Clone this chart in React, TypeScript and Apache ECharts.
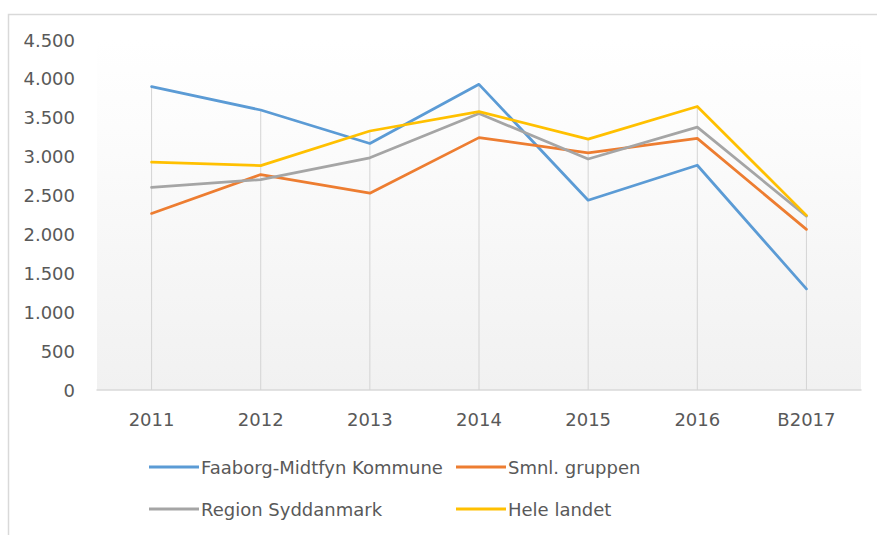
import React, { useEffect, useRef } from "react";
import * as echarts from "echarts";

const categories = ["2011", "2012", "2013", "2014", "2015", "2016", "B2017"];
const faaborg = [3900, 3600, 3170, 3930, 2440, 2890, 1300];
const smnl = [2270, 2770, 2530, 3245, 3050, 3235, 2065];
const region = [2605, 2705, 2985, 3555, 2970, 3380, 2235];
const hele = [2930, 2885, 3330, 3580, 3225, 3645, 2245];
const seriesNames = ["Faaborg-Midtfyn Kommune", "Smnl. gruppen", "Region Syddanmark", "Hele landet"];
const colors = ["#5B9BD5", "#ED7D31", "#A5A5A5", "#FFC000"];

const FONT = "DejaVu Sans";
const TEXT = "#595959";

function fmt(v: number): string {
  return String(v).replace(/\B(?=(\d{3})+(?!\d))/g, ".");
}

export default function App() {
  const ref = useRef<HTMLDivElement>(null);
  useEffect(() => {
    if (!ref.current) return;
    const chart = echarts.init(ref.current, undefined, { renderer: "svg" });
    const allSeries = [faaborg, smnl, region, hele];
    const dropData = categories.map((_, i) => Math.max(...allSeries.map((s) => s[i])));
    const legendPos = [
      { left: 149, top: 458 },
      { left: 456, top: 458 },
      { left: 149, top: 500 },
      { left: 456, top: 500 },
    ];
    chart.setOption({
      animation: false,
      backgroundColor: "#ffffff",
      textStyle: { fontFamily: FONT },
      grid: {
        left: 97,
        right: 16,
        top: 40,
        bottom: 145,
        containLabel: false,
        show: true,
        borderWidth: 0,
        backgroundColor: new echarts.graphic.LinearGradient(0, 0, 0, 1, [
          { offset: 0, color: "#ffffff" },
          { offset: 0.25, color: "#fcfcfc" },
          { offset: 1, color: "#f1f1f1" },
        ]),
      },
      graphic: [
        {
          type: "polyline",
          shape: { points: [[8.5, 545], [8.5, 14.5], [890, 14.5]] },
          style: { stroke: "#d9d9d9", lineWidth: 1.5, fill: null },
          silent: true,
        },
      ],
      legend: seriesNames.map((n, i) => ({
        data: [n],
        left: legendPos[i].left,
        top: legendPos[i].top,
        icon: "rect",
        itemWidth: 50,
        itemHeight: 3,
        itemGap: 0,
        selectedMode: false,
        textStyle: { fontFamily: FONT, fontSize: 18, color: TEXT, padding: [0, 0, 0, -3] },
        padding: 0,
      })),
      xAxis: {
        type: "category",
        data: categories,
        boundaryGap: true,
        axisTick: { show: false },
        axisLine: { show: true, lineStyle: { color: "#d9d9d9", width: 1.5 } },
        axisLabel: { color: TEXT, fontFamily: FONT, fontSize: 18, margin: 20 },
        splitLine: { show: false },
      },
      yAxis: {
        type: "value",
        min: 0,
        max: 4500,
        interval: 500,
        axisLine: { show: false },
        axisTick: { show: false },
        splitLine: { show: false },
        axisLabel: {
          color: TEXT,
          fontFamily: FONT,
          fontSize: 18,
          margin: 22,
          formatter: (v: number) => fmt(v),
        },
      },
      series: [
        {
          type: "bar",
          name: "drop",
          data: dropData,
          barWidth: 1,
          itemStyle: { color: "#d4d4d4" },
          silent: true,
          z: 1,
        },
        ...allSeries.map((d, i) => ({
          type: "line",
          name: seriesNames[i],
          data: d,
          color: colors[i],
          showSymbol: false,
          symbol: "none",
          lineStyle: { color: colors[i], width: 2.75, cap: "round", join: "round" },
          z: 3,
        })),
      ],
    });
    return () => chart.dispose();
  }, []);
  return (
    <div
      ref={ref}
      style={{ position: "fixed", left: 0, top: 0, width: 877, height: 535 }}
    />
  );
}
